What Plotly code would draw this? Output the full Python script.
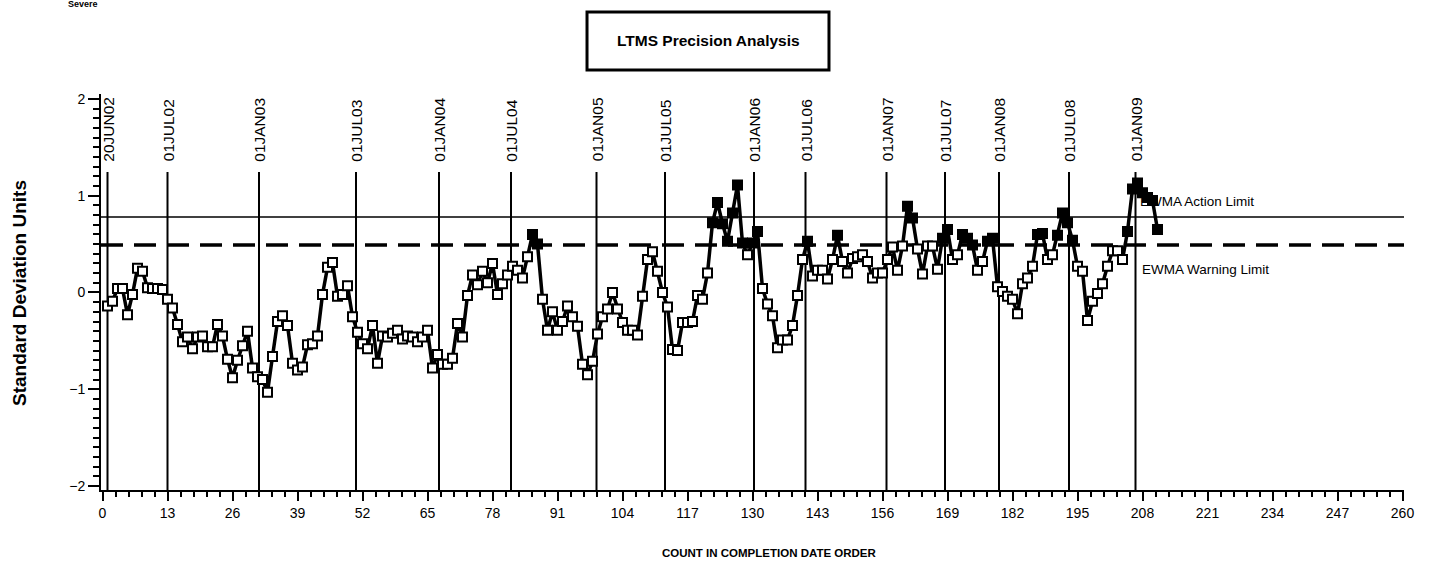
import plotly.graph_objects as go

# ---------------- data ----------------
ewma = [
    -0.14, -0.09, 0.04, 0.04, -0.23, -0.02, 0.25, 0.22, 0.05, 0.04, 0.04, 0.03,
    -0.07, -0.16, -0.33, -0.51, -0.46, -0.58, -0.46, -0.45, -0.56, -0.56, -0.33, -0.45,
    -0.69, -0.88, -0.70, -0.55, -0.40, -0.78, -0.87, -0.90, -1.03, -0.66, -0.30, -0.24,
    -0.34, -0.73, -0.80, -0.77, -0.54, -0.53, -0.45, -0.02, 0.26, 0.31, -0.04, -0.02,
    0.07, -0.25, -0.41, -0.53, -0.58, -0.34, -0.73, -0.45, -0.46, -0.42, -0.39, -0.48,
    -0.45, -0.46, -0.51, -0.46, -0.39, -0.78, -0.64, -0.74, -0.74, -0.68, -0.32, -0.46,
    -0.03, 0.18, 0.08, 0.22, 0.10, 0.30, -0.02, 0.09, 0.18, 0.27, 0.23, 0.15,
    0.37, 0.60, 0.50, -0.07, -0.39, -0.20, -0.39, -0.30, -0.14, -0.25, -0.35, -0.74,
    -0.85, -0.71, -0.43, -0.25, -0.17, 0.00, -0.17, -0.31, -0.39, -0.39, -0.44, -0.04,
    0.34, 0.42, 0.22, 0.00, -0.15, -0.59, -0.60, -0.31, -0.31, -0.30, -0.03, -0.07,
    0.20, 0.72, 0.93, 0.71, 0.53, 0.82, 1.11, 0.51, 0.39, 0.51, 0.63, 0.04,
    -0.12, -0.24, -0.57, -0.49, -0.49, -0.34, -0.03, 0.34, 0.53, 0.17, 0.23, 0.23,
    0.14, 0.34, 0.59, 0.32, 0.20, 0.35, 0.37, 0.39, 0.32, 0.15, 0.20, 0.20,
    0.34, 0.47, 0.23, 0.48, 0.89, 0.77, 0.45, 0.19, 0.48, 0.48, 0.24, 0.56,
    0.65, 0.34, 0.39, 0.60, 0.56, 0.49, 0.23, 0.32, 0.53, 0.56, 0.06, 0.01,
    -0.04, -0.07, -0.22, 0.09, 0.15, 0.27, 0.60, 0.61, 0.34, 0.39, 0.59, 0.82,
    0.72, 0.54, 0.27, 0.22, -0.29, -0.09, -0.01, 0.09, 0.27, 0.43, 0.43, 0.34,
    0.63, 1.07, 1.13, 1.03, 0.98, 0.95, 0.65,
]
count = list(range(1, len(ewma) + 1))

action_limit = 0.78
warning_limit = 0.49

date_labels = ["20JUN02", "01JUL02", "01JAN03", "01JUL03", "01JAN04", "01JUL04",
               "01JAN05", "01JUL05", "01JAN06", "01JUL06", "01JAN07", "01JUL07",
               "01JAN08", "01JUL08", "01JAN09"]
date_pos = [1, 13, 31.3, 50.7, 67.3, 81.7, 98.8, 112.5, 130.3, 140.6, 156.8,
            168.5, 179.3, 193.3, 206.6]

x_ticks = list(range(0, 261, 13))
y_ticks = [-2, -1, 0, 1, 2]

title_text = "LTMS Precision Analysis"
corner_text = "Severe"
x_title = "COUNT IN COMPLETION DATE ORDER"
y_title = "Standard Deviation Units"
limit_labels = ["EWMA Action Limit", "EWMA Warning Limit"]

# ---------------- figure ----------------
XR = [-0.3, 260.3]
YR = [-2.04, 2.05]
SANS = "Liberation Sans, Arial, sans-serif"
TICKFONT = dict(family=SANS, size=14, color="black")

fig = go.Figure()

# limit labels (drawn under the data)
fig.add_trace(go.Scatter(
    x=[207.5, 207.9], y=[0.925, 0.23], mode="text", text=limit_labels,
    textposition="middle right",
    textfont=dict(family=SANS, size=13.5, color="black"),
    hoverinfo="skip", showlegend=False, cliponaxis=False,
))

fill = ["black" if v >= warning_limit else "white" for v in ewma]
fig.add_trace(go.Scatter(
    x=count, y=ewma, mode="lines+markers",
    line=dict(color="black", width=3.5),
    marker=dict(symbol="square", size=9, color=fill,
                line=dict(color="black", width=2)),
    showlegend=False, cliponaxis=False,
))

shapes = []
shapes.append(dict(type="line", xref="paper", yref="y", x0=0, x1=1,
                   y0=action_limit, y1=action_limit,
                   line=dict(color="black", width=1.5), layer="below"))
shapes.append(dict(type="line", xref="paper", yref="y", x0=0, x1=1,
                   y0=warning_limit, y1=warning_limit,
                   line=dict(color="black", width=3.5, dash="22px,11px"), layer="below"))
for p in date_pos:
    shapes.append(dict(type="line", xref="x", yref="y", x0=p, x1=p,
                       y0=YR[0], y1=1.245,
                       line=dict(color="black", width=2), layer="below"))
shapes.append(dict(type="rect", xref="paper", yref="paper",
                   x0=0.373, x1=0.5587, y0=1.0606, y1=1.207,
                   line=dict(color="black", width=3)))

annotations = []
for lab, p in zip(date_labels, date_pos):
    annotations.append(dict(x=p + 0.2, y=1.33, xref="x", yref="y", text=lab,
                            textangle=-90, showarrow=False,
                            xanchor="center", yanchor="bottom",
                            font=dict(family=SANS, size=15.5, color="black")))
annotations.append(dict(x=0.4659, y=1.134, xref="paper", yref="paper",
                        text="<b>" + title_text + "</b>", showarrow=False,
                        xanchor="center", yanchor="middle",
                        font=dict(family=SANS, size=15.5, color="black")))
annotations.append(dict(x=-0.0138, y=1.227, xref="paper", yref="paper",
                        text="<b>" + corner_text + "</b>", showarrow=False,
                        xanchor="center", yanchor="middle",
                        font=dict(family=SANS, size=9, color="black")))
annotations.append(dict(x=-0.0622, y=0.4975, xref="paper", yref="paper",
                        text="<b>" + y_title + "</b>", showarrow=False,
                        textangle=-90, xanchor="center", yanchor="middle",
                        font=dict(family=SANS, size=19, color="black")))
annotations.append(dict(x=0.5127, y=-0.159, xref="paper", yref="paper",
                        text="<b>" + x_title + "</b>", showarrow=False,
                        xanchor="center", yanchor="middle",
                        font=dict(family=SANS, size=11.5, color="black")))

fig.update_layout(
    width=1431, height=561,
    margin=dict(l=101, r=27, t=94, b=71),
    paper_bgcolor="white", plot_bgcolor="white",
    shapes=shapes, annotations=annotations,
    showlegend=False,
    xaxis=dict(range=XR, tickvals=x_ticks, ticks="outside", ticklen=9, tickwidth=2,
               tickcolor="black", showline=True, linecolor="black", linewidth=2,
               showgrid=False, zeroline=False, tickfont=TICKFONT,
               minor=dict(dtick=2.6, tick0=0, ticks="outside", ticklen=5,
                          tickwidth=1.5, tickcolor="black", showgrid=False)),
    yaxis=dict(range=YR, tickvals=y_ticks, ticks="outside", ticklen=11, tickwidth=2,
               tickcolor="black", showline=True, linecolor="black", linewidth=2,
               showgrid=False, zeroline=False, tickfont=TICKFONT,
               minor=dict(dtick=0.1, tick0=0, ticks="outside", ticklen=6,
                          tickwidth=1.5, tickcolor="black", showgrid=False)),
)

fig.write_html("out.html", config={"displayModeBar": False},
               post_script="document.body.style.margin='0';document.body.style.padding='0';")
